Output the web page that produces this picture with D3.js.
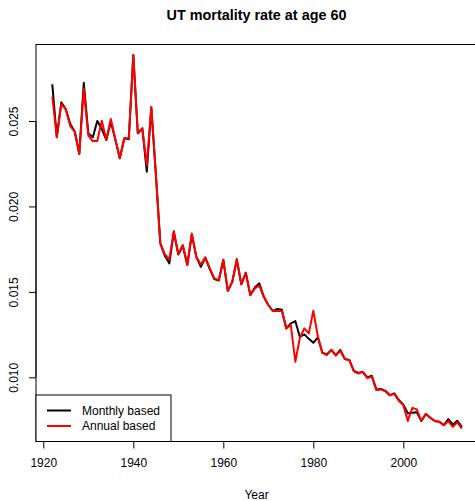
<!DOCTYPE html>
<html>
<head>
<meta charset="utf-8">
<script src="https://cdn.jsdelivr.net/npm/d3@7"></script>
<style>
  html, body { margin: 0; padding: 0; background: #fff; }
  svg { display: block; font-family: "Liberation Sans", Arial, Helvetica, sans-serif; }
</style>
</head>
<body>
<svg id="chart" width="475" height="501"></svg>
<script>
// Mortality rate at age 60, by calendar year
const years = d3.range(1922, 2014);

const monthlyBased = [
  0.02715, 0.02405, 0.02609, 0.02568, 0.02482, 0.02437, 0.02307, 0.02724, 0.02428, 0.02405,
  0.02500, 0.02453, 0.02389, 0.02495, 0.02393, 0.02282, 0.02399, 0.02393, 0.02886, 0.02428,
  0.02457, 0.02203, 0.02580, 0.02194, 0.01784, 0.01712, 0.01667, 0.01850, 0.01718, 0.01770,
  0.01657, 0.01836, 0.01705, 0.01647, 0.01700, 0.01633, 0.01575, 0.01566, 0.01686, 0.01506,
  0.01559, 0.01688, 0.01544, 0.01612, 0.01481, 0.01525, 0.01550, 0.01471, 0.01423, 0.01388,
  0.01400, 0.01395, 0.01286, 0.01316, 0.01329, 0.01237, 0.01251, 0.01225, 0.01202, 0.01234,
  0.01144, 0.01134, 0.01160, 0.01130, 0.01160, 0.01107, 0.01101, 0.01038, 0.01026, 0.01032,
  0.00999, 0.01009, 0.00929, 0.00932, 0.00921, 0.00896, 0.00906, 0.00867, 0.00840, 0.00789,
  0.00792, 0.00795, 0.00744, 0.00785, 0.00763, 0.00744, 0.00740, 0.00720, 0.00755, 0.00724,
  0.00745, 0.00710
];

const annualBased = [
  0.02642, 0.02405, 0.02600, 0.02568, 0.02470, 0.02437, 0.02307, 0.02690, 0.02415, 0.02383,
  0.02383, 0.02502, 0.02389, 0.02512, 0.02393, 0.02282, 0.02399, 0.02399, 0.02886, 0.02428,
  0.02457, 0.02242, 0.02580, 0.02194, 0.01784, 0.01720, 0.01690, 0.01856, 0.01721, 0.01774,
  0.01657, 0.01842, 0.01705, 0.01660, 0.01702, 0.01638, 0.01579, 0.01569, 0.01690, 0.01506,
  0.01559, 0.01692, 0.01544, 0.01612, 0.01481, 0.01520, 0.01537, 0.01471, 0.01423, 0.01388,
  0.01390, 0.01388, 0.01286, 0.01306, 0.01091, 0.01230, 0.01286, 0.01257, 0.01390, 0.01240,
  0.01144, 0.01130, 0.01160, 0.01127, 0.01155, 0.01107, 0.01101, 0.01035, 0.01022, 0.01032,
  0.00995, 0.01005, 0.00925, 0.00929, 0.00918, 0.00893, 0.00903, 0.00863, 0.00837, 0.00745,
  0.00821, 0.00812, 0.00744, 0.00785, 0.00763, 0.00744, 0.00740, 0.00720, 0.00744, 0.00710,
  0.00736, 0.00700
];

const xTicks = [1920, 1940, 1960, 1980, 2000];
const yTicks = [0.010, 0.015, 0.020, 0.025];
const seriesNames = ["Monthly based", "Annual based"];
const seriesColors = ["#000000", "#ff0000"];

const svg = d3.select("#chart");

// plot region
const plotLeft = 36, plotRight = 477, plotTop = 44.5, plotBottom = 441.5;

const x = d3.scaleLinear().domain([1918.38, 2016.37]).range([plotLeft, plotRight]);
const y = d3.scaleLinear().domain([0.010, 0.025]).range([377.3, 121]);

svg.append("defs").append("clipPath").attr("id", "plotClip")
  .append("rect").attr("x", plotLeft).attr("y", plotTop)
  .attr("width", plotRight - plotLeft).attr("height", plotBottom - plotTop);

// series lines (monthly first, annual drawn on top)
const line = d3.line().x((d, i) => x(years[i])).y(d => y(d));
const plot = svg.append("g").attr("clip-path", "url(#plotClip)");
[monthlyBased, annualBased].forEach((vals, k) => {
  plot.append("path")
    .datum(vals)
    .attr("d", line)
    .attr("fill", "none")
    .attr("stroke", seriesColors[k])
    .attr("stroke-width", 2)
    .attr("stroke-linejoin", "round");
});

// axes
const xAxis = d3.axisBottom(x).tickValues(xTicks).tickFormat(d3.format("d"))
  .tickSize(7).tickPadding(10);
const gx = svg.append("g").attr("transform", `translate(0,${plotBottom})`).call(xAxis);
gx.select(".domain").attr("d", `M${x(xTicks[0])},0H${x(xTicks[xTicks.length - 1])}`);

const yAxis = d3.axisLeft(y).tickValues(yTicks).tickFormat(d3.format(".3f"))
  .tickSize(7).tickPadding(4);
const gy = svg.append("g").attr("transform", `translate(${plotLeft},0)`).call(yAxis);
gy.select(".domain").attr("d", `M0,${y(yTicks[0])}V${y(yTicks[yTicks.length - 1])}`);
gy.selectAll(".tick text")
  .attr("transform", "rotate(-90)")
  .attr("x", 0).attr("y", -18)
  .attr("dy", "0")
  .attr("text-anchor", "middle");

[gx, gy].forEach(g => {
  g.selectAll("text").attr("font-size", 12).attr("fill", "#000")
    .attr("font-family", "Liberation Sans, Arial, sans-serif");
  g.selectAll("line, path").attr("stroke", "#000");
});

// plot frame
svg.append("rect")
  .attr("x", plotLeft).attr("y", plotTop)
  .attr("width", plotRight - plotLeft).attr("height", plotBottom - plotTop)
  .attr("fill", "none").attr("stroke", "#000").attr("stroke-width", 1);

// title and axis label
svg.append("text")
  .attr("x", (plotLeft + plotRight) / 2).attr("y", 20)
  .attr("text-anchor", "middle")
  .attr("font-size", 14.4).attr("font-weight", "bold")
  .text("UT mortality rate at age 60");

svg.append("text")
  .attr("x", (plotLeft + plotRight) / 2).attr("y", 499)
  .attr("text-anchor", "middle")
  .attr("font-size", 12)
  .text("Year");

// legend
const lg = svg.append("g");
lg.append("rect")
  .attr("x", plotLeft).attr("y", 395)
  .attr("width", 135).attr("height", plotBottom - 395)
  .attr("fill", "#fff").attr("stroke", "#000").attr("stroke-width", 1);
seriesNames.forEach((name, k) => {
  const yy = 410.5 + k * 15.5;
  lg.append("line")
    .attr("x1", 47).attr("x2", 71).attr("y1", yy).attr("y2", yy)
    .attr("stroke", seriesColors[k]).attr("stroke-width", 2);
  lg.append("text")
    .attr("x", 82).attr("y", yy + 4.3)
    .attr("font-size", 12)
    .text(name);
});
</script>
</body>
</html>
